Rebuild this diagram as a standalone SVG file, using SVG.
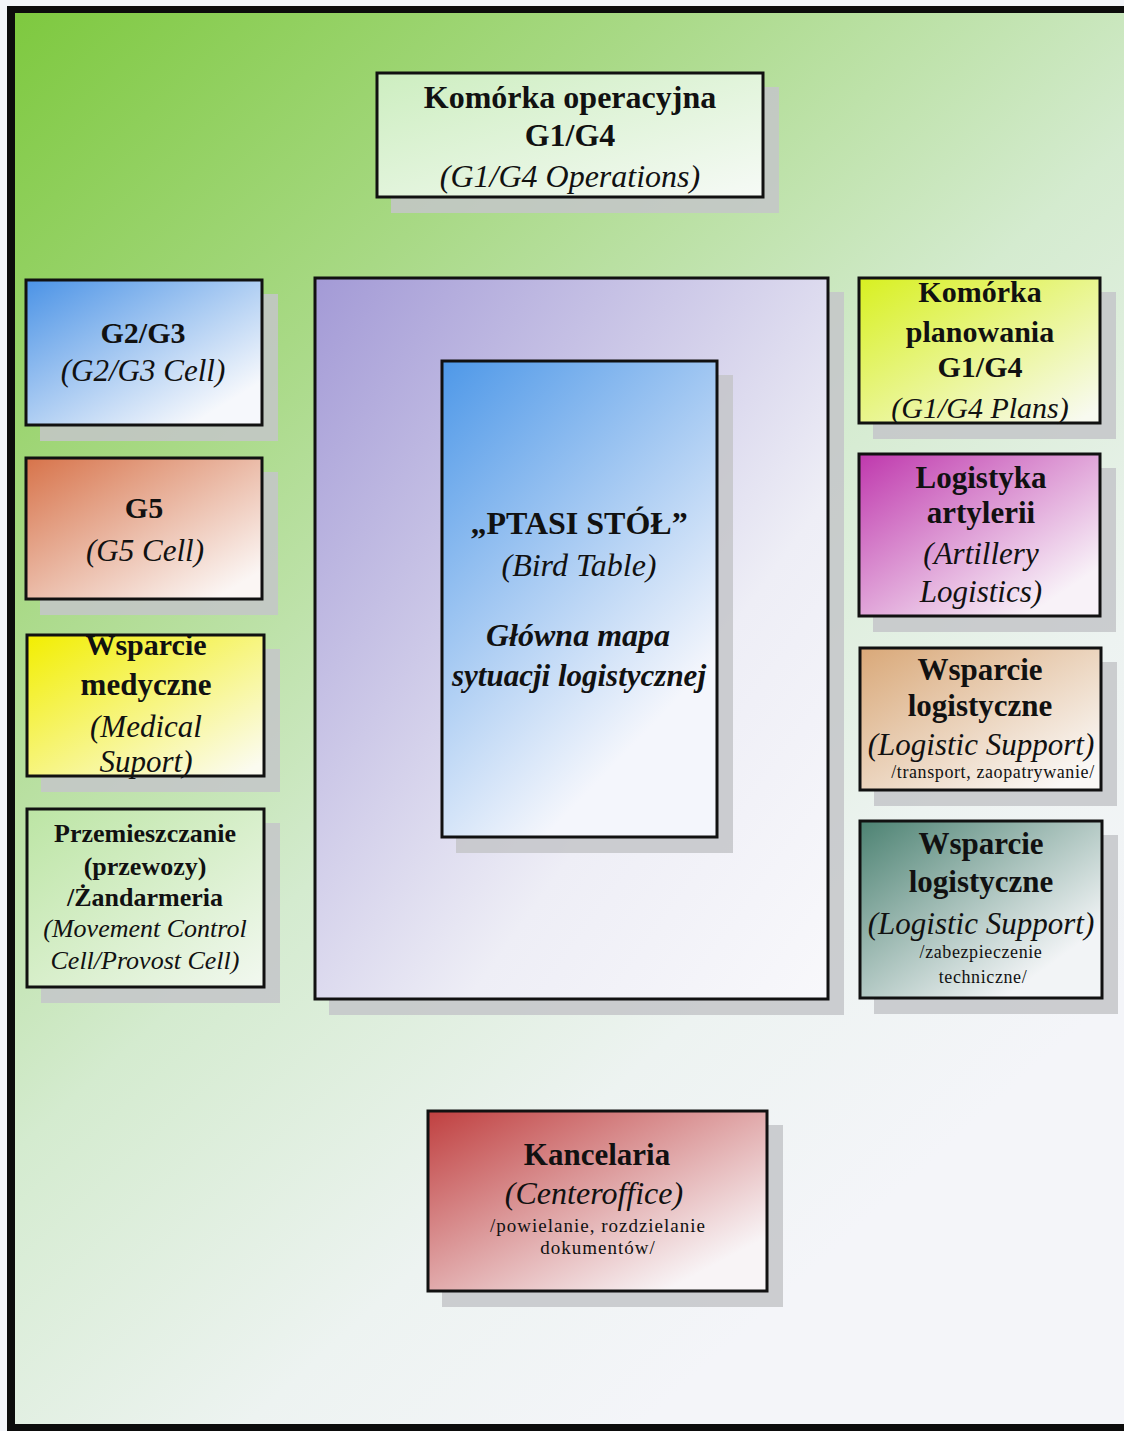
<svg xmlns="http://www.w3.org/2000/svg" width="1124" height="1431" viewBox="0 0 1124 1431">
  <style>
    text { font-family: "Liberation Serif", "Times New Roman", serif; fill: #111; text-anchor: middle; }
    .b { font-weight: bold; }
    .i { font-style: italic; }
    .bi { font-weight: bold; font-style: italic; }
    .s { font-size: 18px; letter-spacing: 0.6px; }
    .box { stroke: #111; stroke-width: 3; }
    .shadow { fill: #c4c6c9; opacity: 0.85; }
  </style>
  <defs>
    <linearGradient id="bg" gradientUnits="userSpaceOnUse" x1="0" y1="0" x2="1000" y2="1100">
      <stop offset="0" stop-color="#7cc83c"/>
      <stop offset="0.3" stop-color="#a8d985"/>
      <stop offset="0.58" stop-color="#d4ebcf"/>
      <stop offset="0.82" stop-color="#edf3f1"/>
      <stop offset="1" stop-color="#f4f5f9"/>
    </linearGradient>
    <linearGradient id="gOps" x1="0" y1="0" x2="1" y2="1">
      <stop offset="0" stop-color="#cdeec0"/>
      <stop offset="1" stop-color="#f6faf6"/>
    </linearGradient>
    <linearGradient id="gBlue" x1="0" y1="0" x2="1" y2="1">
      <stop offset="0" stop-color="#4b93e6"/>
      <stop offset="0.85" stop-color="#f6f8fc"/>
    </linearGradient>
    <linearGradient id="gOrange" x1="0" y1="0" x2="1" y2="1">
      <stop offset="0" stop-color="#d7734a"/>
      <stop offset="0.9" stop-color="#fbf6f4"/>
    </linearGradient>
    <linearGradient id="gYellow" x1="0" y1="0" x2="1" y2="1">
      <stop offset="0" stop-color="#f2ee00"/>
      <stop offset="0.95" stop-color="#fbfbf0"/>
    </linearGradient>
    <linearGradient id="gPale" x1="0" y1="0" x2="1" y2="1">
      <stop offset="0" stop-color="#bce5a4"/>
      <stop offset="1" stop-color="#f2f8f0"/>
    </linearGradient>
    <linearGradient id="gLav" x1="0" y1="0" x2="1" y2="1">
      <stop offset="0" stop-color="#a39ad6"/>
      <stop offset="0.65" stop-color="#eeeef6"/>
      <stop offset="1" stop-color="#f8f8fb"/>
    </linearGradient>
    <linearGradient id="gTable" x1="0" y1="0" x2="0.6" y2="1">
      <stop offset="0" stop-color="#4e98e8"/>
      <stop offset="0.9" stop-color="#f4f6fc"/>
    </linearGradient>
    <linearGradient id="gLime" x1="0" y1="0" x2="1" y2="1">
      <stop offset="0" stop-color="#d8f020"/>
      <stop offset="0.95" stop-color="#f8faf0"/>
    </linearGradient>
    <linearGradient id="gMagenta" x1="0" y1="0" x2="1" y2="1">
      <stop offset="0" stop-color="#bf38ad"/>
      <stop offset="0.85" stop-color="#f8f2f8"/>
    </linearGradient>
    <linearGradient id="gTan" x1="0" y1="0" x2="1" y2="1">
      <stop offset="0" stop-color="#d9a878"/>
      <stop offset="0.9" stop-color="#faf8f6"/>
    </linearGradient>
    <linearGradient id="gTeal" x1="0" y1="0" x2="1" y2="1">
      <stop offset="0" stop-color="#4c8272"/>
      <stop offset="0.8" stop-color="#f2f4f6"/>
    </linearGradient>
    <linearGradient id="gRed" x1="0" y1="0" x2="1" y2="1">
      <stop offset="0" stop-color="#c04040"/>
      <stop offset="0.85" stop-color="#f8f4f6"/>
    </linearGradient>
  </defs>

  <!-- page and frame -->
  <rect x="0" y="0" width="1124" height="1431" fill="#f3f5f9"/>
  <rect x="7" y="6" width="1117" height="1425" fill="#0c0c0c"/>
  <rect x="15" y="13" width="1109" height="1411" fill="url(#bg)"/>

  <g id="connectors"/>

  <g id="ops-cell">
    <rect class="shadow" x="391" y="87" width="388" height="126"/>
    <rect class="box" x="377" y="73" width="386" height="124" fill="url(#gOps)"/>
    <text class="b" x="570" y="108" font-size="32">Komórka operacyjna</text>
    <text class="b" x="570" y="146" font-size="32">G1/G4</text>
    <text class="i" x="570" y="187" font-size="32">(G1/G4 Operations)</text>
  </g>

  <g id="g2g3-cell">
    <rect class="shadow" x="40" y="294" width="238" height="147"/>
    <rect class="box" x="26" y="280" width="236" height="145" fill="url(#gBlue)"/>
    <text class="b" x="143" y="343" font-size="30">G2/G3</text>
    <text class="i" x="143" y="381" font-size="31">(G2/G3 Cell)</text>
  </g>

  <g id="g5-cell">
    <rect class="shadow" x="40" y="472" width="238" height="143"/>
    <rect class="box" x="26" y="458" width="236" height="141" fill="url(#gOrange)"/>
    <text class="b" x="144" y="518" font-size="30">G5</text>
    <text class="i" x="145" y="561" font-size="31">(G5 Cell)</text>
  </g>

  <g id="medical">
    <rect class="shadow" x="41" y="649" width="239" height="143"/>
    <rect class="box" x="27" y="635" width="237" height="141" fill="url(#gYellow)"/>
    <text class="b" x="146" y="655" font-size="30">Wsparcie</text>
    <text class="b" x="146" y="695" font-size="31">medyczne</text>
    <text class="i" x="146" y="737" font-size="31">(Medical</text>
    <text class="i" x="146" y="772" font-size="31">Suport)</text>
  </g>

  <g id="movement">
    <rect class="shadow" x="41" y="823" width="239" height="180"/>
    <rect class="box" x="27" y="809" width="237" height="178" fill="url(#gPale)"/>
    <text class="b" x="145" y="842" font-size="26">Przemieszczanie</text>
    <text class="b" x="145" y="875" font-size="26">(przewozy)</text>
    <text class="b" x="145" y="906" font-size="26">/Żandarmeria</text>
    <text class="i" x="145" y="937" font-size="26">(Movement Control</text>
    <text class="i" x="145" y="969" font-size="26">Cell/Provost Cell)</text>
  </g>

  <g id="map-area">
    <rect class="shadow" x="329" y="292" width="515" height="723"/>
    <rect class="box" x="315" y="278" width="513" height="721" fill="url(#gLav)"/>
  </g>

  <g id="bird-table">
    <rect class="shadow" x="456" y="375" width="277" height="478"/>
    <rect class="box" x="442" y="361" width="275" height="476" fill="url(#gTable)"/>
    <text class="b" x="579" y="534" font-size="32">„PTASI STÓŁ”</text>
    <text class="i" x="579" y="576" font-size="32">(Bird Table)</text>
    <text class="bi" x="578" y="646" font-size="32">Główna mapa</text>
    <text class="bi" x="579" y="686" font-size="31">sytuacji logistycznej</text>
  </g>

  <g id="plans-cell">
    <rect class="shadow" x="873" y="292" width="243" height="147"/>
    <rect class="box" x="859" y="278" width="241" height="145" fill="url(#gLime)"/>
    <text class="b" x="980" y="302" font-size="30">Komórka</text>
    <text class="b" x="980" y="342" font-size="30">planowania</text>
    <text class="b" x="980" y="377" font-size="30">G1/G4</text>
    <text class="i" x="980" y="418" font-size="30">(G1/G4 Plans)</text>
  </g>

  <g id="artillery">
    <rect class="shadow" x="873" y="468" width="243" height="164"/>
    <rect class="box" x="859" y="454" width="241" height="162" fill="url(#gMagenta)"/>
    <text class="b" x="981" y="488" font-size="31">Logistyka</text>
    <text class="b" x="981" y="523" font-size="31">artylerii</text>
    <text class="i" x="981" y="564" font-size="31">(Artillery</text>
    <text class="i" x="981" y="602" font-size="31">Logistics)</text>
  </g>

  <g id="log-transport">
    <rect class="shadow" x="874" y="662" width="243" height="144"/>
    <rect class="box" x="860" y="648" width="241" height="142" fill="url(#gTan)"/>
    <text class="b" x="980" y="680" font-size="31">Wsparcie</text>
    <text class="b" x="980" y="716" font-size="31">logistyczne</text>
    <text class="i" x="981" y="755" font-size="31">(Logistic Support)</text>
    <text class="s" x="993" y="778">/transport, zaopatrywanie/</text>
  </g>

  <g id="log-technical">
    <rect class="shadow" x="874" y="835" width="244" height="179"/>
    <rect class="box" x="860" y="821" width="242" height="177" fill="url(#gTeal)"/>
    <text class="b" x="981" y="854" font-size="31">Wsparcie</text>
    <text class="b" x="981" y="892" font-size="31">logistyczne</text>
    <text class="i" x="981" y="934" font-size="31">(Logistic Support)</text>
    <text class="s" x="981" y="958" letter-spacing="2">/zabezpieczenie</text>
    <text class="s" x="983" y="983" letter-spacing="2">techniczne/</text>
  </g>

  <g id="office">
    <rect class="shadow" x="442" y="1125" width="341" height="182"/>
    <rect class="box" x="428" y="1111" width="339" height="180" fill="url(#gRed)"/>
    <text class="b" x="597" y="1165" font-size="31">Kancelaria</text>
    <text class="i" x="594" y="1204" font-size="32">(Centeroffice)</text>
    <text x="598" y="1232" font-size="19" letter-spacing="1">/powielanie, rozdzielanie</text>
    <text x="598" y="1254" font-size="19" letter-spacing="1">dokumentów/</text>
  </g>
</svg>
